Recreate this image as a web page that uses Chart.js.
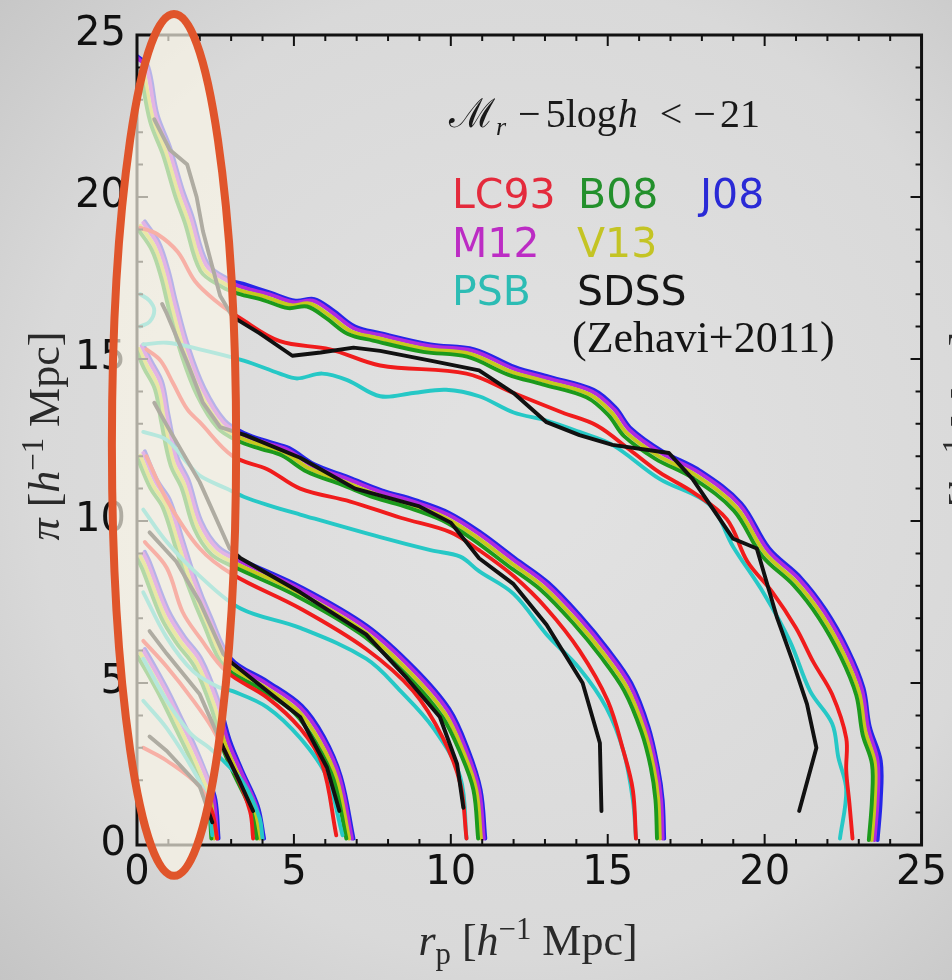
<!DOCTYPE html>
<html>
<head>
<meta charset="utf-8">
<script src="https://cdn.jsdelivr.net/npm/chart.js@4.4.1/dist/chart.umd.min.js"></script>
<style>
  html, body { margin: 0; padding: 0; background: #d6d6d6; }
  #wrap { width: 952px; height: 980px; }
</style>
</head>
<body>
<div id="wrap"><canvas id="xi-contours" width="952" height="980"></canvas></div>
<script>
// xi(rp, pi) contours for Mr - 5logh < -21, outermost contour first.
// each contour is a list of [rp, pi] points in h^-1 Mpc

const lc93 = [
  [[0.1,19.05],[0.65,18.85],[1.3,18.3],[1.85,17.4],[2.5,16.8],[3.3,16.25],[4.55,15.55],[6.15,15.3],[7.75,14.8],[10.5,14.55],[12.0,13.95],[13.55,13.35],[14.65,12.95],[15.7,12.2],[16.65,11.5],[17.7,10.9],[18.8,10.05],[19.45,8.75],[20.25,7.8],[21.0,6.7],[21.55,5.65],[22.15,4.65],[22.6,3.3],[22.6,2.3],[22.7,1.3],[22.8,0.2]],
  [[0.3,15.3],[0.75,14.95],[1.15,14.25],[1.6,13.45],[2.0,13.05],[3.05,12.0],[4.15,11.6],[5.2,11.0],[6.8,10.6],[8.4,10.1],[10.0,9.65],[10.9,9.1],[12.0,8.3],[13.05,7.3],[14.1,6.0],[15.0,4.45],[15.5,2.9],[15.8,1.7],[15.9,0.2]],
  [[0.3,12.0],[0.95,10.65],[2.0,9.15],[3.05,8.35],[5.2,7.3],[7.3,6.05],[8.8,4.75],[9.75,3.3],[10.3,1.9],[10.5,0.2]],
  [[0.25,9.35],[0.95,8.55],[1.45,7.2],[2.0,6.4],[2.85,5.35],[4.15,4.55],[5.2,3.6],[5.9,2.5],[6.35,0.3]],
  [[0.2,6.3],[0.95,5.5],[1.8,4.45],[2.4,3.6],[3.1,2.3],[3.6,1.05],[3.7,0.2]],
  [[0.2,3.0],[0.95,2.6],[2.0,1.8],[2.4,1.0],[2.55,0.2]],
];

const b08 = [
  [[0.12,23.82],[0.42,22.32],[0.82,21.32],[1.22,20.02],[1.52,19.22],[2.02,17.72],[2.72,17.22],[3.22,17.02],[4.02,16.82],[4.82,16.57],[5.42,16.62],[6.02,16.27],[6.72,15.77],[7.52,15.57],[9.12,15.22],[10.52,15.07],[11.82,14.52],[12.92,14.22],[14.32,13.82],[15.02,13.27],[15.52,12.62],[16.52,11.92],[17.72,11.32],[19.02,10.32],[19.92,8.92],[20.92,8.02],[21.72,7.02],[22.42,5.82],[22.92,4.62],[23.12,3.42],[23.42,2.5],[23.42,1.4],[23.32,0.15]],
  [[0.02,19.02],[0.47,18.37],[0.77,17.52],[1.02,16.52],[1.42,15.12],[1.92,13.87],[2.57,12.87],[3.22,12.47],[3.97,12.22],[4.62,12.02],[5.42,11.52],[6.52,11.12],[7.57,10.72],[8.62,10.42],[9.72,10.02],[10.72,9.42],[11.82,8.62],[12.87,7.87],[13.92,6.82],[14.77,5.82],[15.52,4.77],[16.07,3.5],[16.37,2.4],[16.52,1.4],[16.57,0.2]],
  [[0.0,15.22],[0.22,14.72],[0.57,14.07],[0.77,13.07],[1.07,11.72],[1.42,11.02],[1.82,9.77],[2.37,8.97],[3.12,8.57],[5.02,7.72],[7.12,6.52],[8.62,5.22],[9.72,3.97],[10.32,2.8],[10.72,1.7],[10.87,0.2]],
  [[0.02,11.92],[0.42,11.02],[0.82,10.42],[1.22,9.22],[1.62,8.02],[2.12,6.82],[2.77,5.52],[3.92,4.82],[5.02,4.07],[5.72,3.12],[6.27,2.0],[6.67,0.2]],
  [[0.02,8.82],[0.17,8.52],[0.77,7.02],[1.27,6.22],[1.82,5.52],[2.37,4.22],[2.72,3.02],[3.12,2.12],[3.62,1.1],[3.82,0.2]],
  [[0.02,5.82],[0.32,5.32],[0.77,4.52],[1.22,3.62],[1.62,2.82],[2.02,1.92],[2.27,1.3],[2.37,0.2]],
];

const j08 = [
  [[0.0,24.35],[0.35,24.05],[0.65,22.55],[1.05,21.55],[1.45,20.25],[1.75,19.45],[2.25,17.95],[2.95,17.45],[3.45,17.3],[4.25,17.05],[5.05,16.8],[5.65,16.85],[6.25,16.5],[6.95,16.0],[7.75,15.8],[9.35,15.45],[10.75,15.3],[12.05,14.75],[13.15,14.45],[14.55,14.05],[15.25,13.5],[15.75,12.85],[16.75,12.15],[17.95,11.55],[19.25,10.55],[20.15,9.15],[21.15,8.25],[21.95,7.25],[22.65,6.05],[23.15,4.85],[23.35,3.65],[23.7,2.6],[23.7,1.4],[23.6,0.15]],
  [[0.25,19.25],[0.7,18.6],[1.0,17.75],[1.25,16.75],[1.65,15.35],[2.15,14.1],[2.8,13.1],[3.45,12.7],[4.2,12.45],[4.85,12.25],[5.65,11.75],[6.75,11.35],[7.8,10.95],[8.85,10.65],[9.95,10.25],[10.95,9.65],[12.05,8.85],[13.1,8.1],[14.15,7.05],[15.0,6.05],[15.75,5.0],[16.3,3.65],[16.6,2.4],[16.75,1.4],[16.8,0.2]],
  [[0.2,15.45],[0.45,14.95],[0.8,14.3],[1.0,13.3],[1.3,11.95],[1.65,11.25],[2.05,10.0],[2.6,9.2],[3.35,8.8],[5.25,7.95],[7.35,6.75],[8.85,5.45],[9.95,4.2],[10.55,2.95],[10.95,1.7],[11.1,0.2]],
  [[0.25,12.15],[0.65,11.25],[1.05,10.65],[1.45,9.45],[1.85,8.25],[2.35,7.05],[3.0,5.75],[4.15,5.05],[5.25,4.3],[5.95,3.35],[6.5,2.1],[6.9,0.2]],
  [[0.25,9.05],[0.4,8.75],[1.0,7.25],[1.5,6.45],[2.05,5.75],[2.6,4.45],[2.95,3.25],[3.35,2.3],[3.85,1.2],[4.05,0.2]],
  [[0.25,6.05],[0.55,5.55],[1.0,4.75],[1.45,3.85],[1.85,3.05],[2.25,2.1],[2.5,1.4],[2.6,0.2]],
];

const m12 = [
  [[0.0,24.3],[0.3,24.0],[0.6,22.5],[1.0,21.5],[1.4,20.2],[1.7,19.4],[2.2,17.9],[2.9,17.4],[3.4,17.2],[4.2,17.0],[5.0,16.75],[5.6,16.8],[6.2,16.45],[6.9,15.95],[7.7,15.75],[9.3,15.4],[10.7,15.25],[12.0,14.7],[13.1,14.4],[14.5,14.0],[15.2,13.45],[15.7,12.8],[16.7,12.1],[17.9,11.5],[19.2,10.5],[20.1,9.1],[21.1,8.2],[21.9,7.2],[22.6,6.0],[23.1,4.8],[23.3,3.6],[23.6,2.6],[23.6,1.4],[23.5,0.15]],
  [[0.2,19.2],[0.65,18.55],[0.95,17.7],[1.2,16.7],[1.6,15.3],[2.1,14.05],[2.75,13.05],[3.4,12.65],[4.15,12.4],[4.8,12.2],[5.6,11.7],[6.7,11.3],[7.75,10.9],[8.8,10.6],[9.9,10.2],[10.9,9.6],[12.0,8.8],[13.05,8.05],[14.1,7.0],[14.95,6.0],[15.7,4.95],[16.25,3.6],[16.55,2.4],[16.7,1.4],[16.75,0.2]],
  [[0.15,15.4],[0.4,14.9],[0.75,14.25],[0.95,13.25],[1.25,11.9],[1.6,11.2],[2.0,9.95],[2.55,9.15],[3.3,8.75],[5.2,7.9],[7.3,6.7],[8.8,5.4],[9.9,4.15],[10.5,2.9],[10.9,1.7],[11.05,0.2]],
  [[0.2,12.1],[0.6,11.2],[1.0,10.6],[1.4,9.4],[1.8,8.2],[2.3,7.0],[2.95,5.7],[4.1,5.0],[5.2,4.25],[5.9,3.3],[6.45,2.1],[6.85,0.2]],
  [[0.2,9.0],[0.35,8.7],[0.95,7.2],[1.45,6.4],[2.0,5.7],[2.55,4.4],[2.9,3.2],[3.3,2.3],[3.8,1.2],[4.0,0.2]],
  [[0.2,6.0],[0.5,5.5],[0.95,4.7],[1.4,3.8],[1.8,3.0],[2.2,2.1],[2.45,1.4],[2.55,0.2]],
];

const v13 = [
  [[0.21,23.91],[0.51,22.41],[0.91,21.41],[1.31,20.11],[1.61,19.31],[2.11,17.81],[2.81,17.31],[3.31,17.11],[4.11,16.91],[4.91,16.66],[5.51,16.71],[6.11,16.36],[6.81,15.86],[7.61,15.66],[9.21,15.31],[10.61,15.16],[11.91,14.61],[13.01,14.31],[14.41,13.91],[15.11,13.36],[15.61,12.71],[16.61,12.01],[17.81,11.41],[19.11,10.41],[20.01,9.01],[21.01,8.11],[21.81,7.11],[22.51,5.91],[23.01,4.71],[23.21,3.51],[23.51,2.55],[23.51,1.4],[23.41,0.15]],
  [[0.11,19.11],[0.56,18.46],[0.86,17.61],[1.11,16.61],[1.51,15.21],[2.01,13.96],[2.66,12.96],[3.31,12.56],[4.06,12.31],[4.71,12.11],[5.51,11.61],[6.61,11.21],[7.66,10.81],[8.71,10.51],[9.81,10.11],[10.81,9.51],[11.91,8.71],[12.96,7.96],[14.01,6.91],[14.86,5.91],[15.61,4.86],[16.16,3.55],[16.46,2.4],[16.61,1.4],[16.66,0.2]],
  [[0.06,15.31],[0.31,14.81],[0.66,14.16],[0.86,13.16],[1.16,11.81],[1.51,11.11],[1.91,9.86],[2.46,9.06],[3.21,8.66],[5.11,7.81],[7.21,6.61],[8.71,5.31],[9.81,4.06],[10.41,2.85],[10.81,1.7],[10.96,0.2]],
  [[0.11,12.01],[0.51,11.11],[0.91,10.51],[1.31,9.31],[1.71,8.11],[2.21,6.91],[2.86,5.61],[4.01,4.91],[5.11,4.16],[5.81,3.21],[6.36,2.05],[6.76,0.2]],
  [[0.11,8.91],[0.26,8.61],[0.86,7.11],[1.36,6.31],[1.91,5.61],[2.46,4.31],[2.81,3.11],[3.21,2.21],[3.71,1.15],[3.91,0.2]],
  [[0.11,5.91],[0.41,5.41],[0.86,4.61],[1.31,3.71],[1.71,2.91],[2.11,2.01],[2.36,1.35],[2.46,0.2]],
];

const psb = [
  [[0.1,17.0],[0.4,16.8],[0.55,16.5],[0.4,16.15],[0.1,16.0]],
  [[0.2,15.45],[0.95,15.5],[2.0,15.3],[3.4,14.95],[4.55,14.55],[5.1,14.4],[5.9,14.55],[6.7,14.35],[7.75,13.85],[8.8,13.95],[9.85,14.05],[10.9,13.85],[12.0,13.35],[13.05,13.1],[14.1,12.75],[15.15,12.35],[16.65,11.3],[18.25,10.5],[19.0,9.2],[19.95,7.8],[20.8,6.3],[21.45,4.75],[22.15,3.75],[22.35,2.7],[22.6,1.7],[22.4,0.2]],
  [[0.2,12.75],[0.95,12.5],[1.6,11.8],[2.0,11.4],[2.85,11.0],[3.4,10.75],[4.15,10.5],[5.2,10.2],[7.75,9.5],[9.35,9.1],[10.3,8.9],[10.9,8.45],[12.0,7.75],[13.05,6.5],[14.1,5.45],[14.95,4.25],[15.5,2.9],[15.8,1.4],[15.9,0.2]],
  [[0.2,10.35],[0.95,9.35],[2.0,8.3],[3.3,7.3],[5.2,6.7],[7.3,5.75],[8.4,4.75],[9.45,3.6],[10.3,2.1],[10.5,0.2]],
  [[0.2,7.8],[0.95,6.4],[1.8,5.35],[2.65,4.85],[3.05,4.75],[4.15,4.25],[5.2,3.3],[6.05,2.1],[6.55,0.3]],
  [[0.2,5.75],[0.95,4.45],[1.7,3.45],[2.3,3.0],[2.75,2.6],[3.4,1.9],[3.9,0.85],[4.0,0.2]],
  [[0.2,4.45],[0.95,3.6],[1.8,2.3],[2.25,1.4],[2.4,0.3]],
];

// SDSS measurements are joined with straight segments
const sdss = [
  [[0.55,22.4],[1.05,21.45],[1.6,21.0],[1.9,20.0],[2.1,18.95],[2.4,17.85],[2.65,16.95],[3.05,16.3],[3.9,15.8],[4.95,15.1],[5.85,15.2],[6.9,15.35],[7.75,15.25],[9.35,14.95],[10.9,14.65],[12.0,13.95],[13.05,13.05],[14.1,12.65],[15.15,12.35],[16.95,12.1],[17.7,11.3],[19.0,9.45],[19.75,9.15],[20.4,7.0],[20.9,5.65],[21.35,4.35],[21.65,3.0],[21.1,1.05]],
  [[0.8,16.7],[0.95,16.4],[1.6,14.9],[2.1,13.65],[2.65,12.9],[3.45,12.65],[5.2,11.95],[6.95,11.0],[9.0,10.45],[10.0,9.95],[10.9,8.85],[12.0,8.05],[13.05,6.8],[14.2,5.0],[14.75,3.15],[14.8,1.05]],
  [[0.55,13.65],[0.95,12.95],[2.0,11.2],[2.95,9.15],[3.3,8.85],[5.2,7.8],[7.3,6.5],[8.6,5.15],[9.65,3.95],[10.2,2.5],[10.4,1.15]],
  [[0.4,9.65],[1.25,8.75],[2.0,7.5],[2.75,5.9],[3.05,5.6],[4.15,4.75],[5.2,3.95],[6.05,2.4],[6.45,1.05]],
  [[0.4,6.6],[0.95,5.9],[2.0,4.65],[2.75,3.0],[3.3,1.9],[3.7,1.05]],
  [[0.4,3.35],[0.95,2.9],[2.0,1.8],[2.4,0.7]],
];

const xTicks = [0, 5, 10, 15, 20, 25];
const yTicks = [0, 5, 10, 15, 20, 25];

// first entry ends up on top
const models = [
  { name: "SDSS", lines: sdss, color: "#111111", legend: "#151515", tension: 0 },
  { name: "LC93", lines: lc93, color: "#f01c1c", legend: "#e42a3c", tension: 0.35 },
  { name: "PSB", lines: psb, color: "#26c8c6", legend: "#2cbcb4", tension: 0.35 },
  { name: "B08", lines: b08, color: "#1c9a1c", legend: "#23902c", tension: 0.35 },
  { name: "V13", lines: v13, color: "#c6c81e", legend: "#c4c424", tension: 0.35 },
  { name: "M12", lines: m12, color: "#b02ade", legend: "#bc2cc4", tension: 0.35 },
  { name: "J08", lines: j08, color: "#2626e8", legend: "#2a2ad6", tension: 0.35 },
];

const datasets = [];
models.forEach((m) => {
  m.lines.forEach((pts) => {
    datasets.push({
      label: m.name,
      data: pts,
      showLine: true,
      borderColor: m.color,
      borderWidth: 3.9,
      pointRadius: 0,
      tension: m.tension,
      borderCapStyle: "round",
      borderJoinStyle: "round",
    });
  });
});

const SERIF = "'Liberation Serif', 'DejaVu Serif', serif";
const SANS = "'DejaVu Sans', sans-serif";

// text made of runs: [text, kind] with kind "i", "sub", "sup" or ""
function runs(ctx, parts, x, y, size, draw) {
  let cx = x;
  for (const [t, kind] of parts) {
    let fs = size, dy = 0;
    if (kind === "sub") { fs = size * 0.7; dy = size * 0.2; }
    if (kind === "sup") { fs = size * 0.7; dy = -size * 0.36; }
    ctx.font = (kind === "i" ? "italic " : "") + fs + "px " + SERIF;
    if (draw) ctx.fillText(t, cx, y + dy);
    cx += ctx.measureText(t).width;
  }
  return cx - x;
}

function centeredRuns(ctx, parts, cx, y, size) {
  const w = runs(ctx, parts, 0, 0, size, false);
  runs(ctx, parts, cx - w / 2, y, size, true);
}

const yTitle = [["π", "i"], [" [", ""], ["h", "i"], ["−1", "sup"], [" Mpc]", ""]];
const xTitle = [["r", "i"], ["p", "sub"], [" [", ""], ["h", "i"], ["−1", "sup"], [" Mpc]", ""]];

// magnitude cut: [text, font, gap before, baseline shift]
const cutLabel = [
  ["ℳ", "40px 'DejaVu Serif', serif", 0, 0],
  ["r", "italic 26px " + SERIF, 1, 8],
  ["−", "40px " + SERIF, 12, 0],
  ["5log", "40px " + SERIF, 5, 0],
  ["h", "italic 40px " + SERIF, 1, 0],
  ["<", "40px " + SERIF, 22, 0],
  ["−", "40px " + SERIF, 11, 0],
  ["21", "40px " + SERIF, 4, 0],
];

const backdrop = {
  id: "backdrop",
  beforeDraw(chart) {
    const { ctx, width, height } = chart;
    const g = ctx.createRadialGradient(520, 470, 80, 520, 470, 760);
    g.addColorStop(0, "#e1e1e1");
    g.addColorStop(0.6, "#d9d9d9");
    g.addColorStop(1, "#c2c2c2");
    ctx.save();
    ctx.fillStyle = g;
    ctx.fillRect(0, 0, width, height);
    ctx.restore();
  },
};

const decorations = {
  id: "decorations",
  afterDraw(chart) {
    const { ctx, chartArea: a, scales: { x, y } } = chart;
    ctx.save();

    // frame with inward ticks on all four sides
    ctx.strokeStyle = "#111";
    ctx.lineWidth = 2;
    ctx.beginPath();
    for (let v = 0; v <= 25; v++) {
      const len = v % 5 === 0 ? 11 : 6;
      const px = x.getPixelForValue(v);
      const py = y.getPixelForValue(v);
      ctx.moveTo(px, a.bottom); ctx.lineTo(px, a.bottom - len);
      ctx.moveTo(px, a.top); ctx.lineTo(px, a.top + len);
      ctx.moveTo(a.left, py); ctx.lineTo(a.left + len, py);
      ctx.moveTo(a.right, py); ctx.lineTo(a.right - len, py);
    }
    ctx.stroke();
    ctx.lineWidth = 3;
    ctx.strokeRect(a.left, a.top, a.right - a.left, a.bottom - a.top);

    // sample cut
    ctx.fillStyle = "#1a1a1a";
    ctx.textBaseline = "alphabetic";
    let tx = 449;
    cutLabel.forEach(([t, font, gap, dy]) => {
      ctx.font = font;
      tx += gap;
      ctx.fillText(t, tx, 127 + dy);
      tx += ctx.measureText(t).width;
    });

    // model legend
    ctx.font = "41px " + SANS;
    const cells = [
      ["LC93", 452, 208], ["B08", 578, 208], ["J08", 700, 208],
      ["M12", 452, 257], ["V13", 577, 257],
      ["PSB", 452, 305], ["SDSS", 577, 305],
    ];
    cells.forEach(([name, lx, ly]) => {
      ctx.fillStyle = models.find((m) => m.name === name).legend;
      ctx.fillText(name, lx, ly);
    });
    ctx.fillStyle = "#151515";
    ctx.font = "44px " + SERIF;
    ctx.fillText("(Zehavi+2011)", 572, 352);

    // axis titles
    ctx.fillStyle = "#2a2a2a";
    centeredRuns(ctx, xTitle, 528, 955, 44);
    ctx.save();
    ctx.translate(45, 436);
    ctx.rotate(-Math.PI / 2);
    centeredRuns(ctx, yTitle, 0, 14, 44);
    ctx.restore();
    // neighbouring panel's axis title, cut by the page edge
    ctx.save();
    ctx.translate(966, 436);
    ctx.rotate(-Math.PI / 2);
    centeredRuns(ctx, yTitle, 0, 14, 44);
    ctx.restore();

    // highlighted small-scale region
    const cx = x.getPixelForValue(1.18);
    const cy = y.getPixelForValue(12.35);
    const rx = x.getPixelForValue(1.18 + 1.98) - cx;
    const ry = cy - y.getPixelForValue(12.35 + 13.3);
    ctx.beginPath();
    ctx.ellipse(cx, cy, rx, ry, 0, 0, Math.PI * 2);
    ctx.fillStyle = "rgba(250,246,231,0.68)";
    ctx.fill();
    ctx.lineWidth = 8;
    ctx.strokeStyle = "#e0552b";
    ctx.stroke();

    ctx.restore();
  },
};

new Chart(document.getElementById("xi-contours"), {
  type: "scatter",
  data: { datasets },
  options: {
    responsive: false,
    animation: false,
    events: [],
    layout: { padding: { top: 30, right: 30, left: 0, bottom: 0 } },
    plugins: { legend: { display: false }, tooltip: { enabled: false } },
    scales: {
      x: {
        type: "linear",
        min: 0,
        max: 25,
        afterFit: (s) => { s.height = 135; },
        afterBuildTicks: (s) => { s.ticks = xTicks.map((v) => ({ value: v })); },
        grid: { display: false, drawTicks: false },
        border: { display: false },
        ticks: { padding: 5, color: "#111", font: { family: SANS, size: 40 } },
      },
      y: {
        type: "linear",
        min: 0,
        max: 25,
        afterFit: (s) => { s.width = 137; },
        afterBuildTicks: (s) => { s.ticks = yTicks.map((v) => ({ value: v })); },
        grid: { display: false, drawTicks: false },
        border: { display: false },
        ticks: { padding: 11, color: "#111", font: { family: SANS, size: 40 } },
      },
    },
  },
  plugins: [backdrop, decorations],
});
</script>
</body>
</html>
